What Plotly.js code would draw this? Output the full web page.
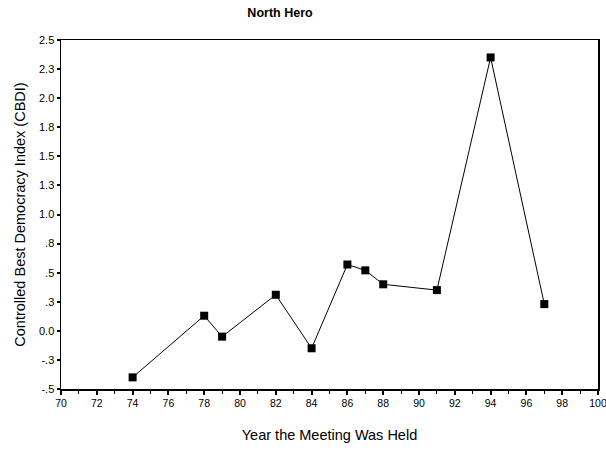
<!DOCTYPE html>
<html>
<head>
<meta charset="utf-8">
<script src="https://cdn.plot.ly/plotly-3.0.1.min.js"></script>
<style>html,body{margin:0;padding:0;background:#fff;}#chart{width:606px;height:450px;}</style>
</head>
<body>
<div id="chart"></div>
<script>
const years = [74, 78, 79, 82, 84, 86, 87, 88, 91, 94, 97];
const cbdi = [-0.40, 0.13, -0.05, 0.31, -0.15, 0.57, 0.52, 0.40, 0.35, 2.35, 0.23];
const yTickVals = [-0.5, -0.25, 0, 0.25, 0.5, 0.75, 1.0, 1.25, 1.5, 1.75, 2.0, 2.25, 2.5];
const yTickText = ['-.5', '-.3', '0.0', '.3', '.5', '.8', '1.0', '1.3', '1.5', '1.8', '2.0', '2.3', '2.5'];
const xTickVals = [70, 72, 74, 76, 78, 80, 82, 84, 86, 88, 90, 92, 94, 96, 98, 100];

const trace = {
  x: years, y: cbdi, type: 'scatter', mode: 'lines+markers',
  line: {color: '#000', width: 1},
  marker: {symbol: 'square', size: 8, color: '#000'},
  showlegend: false, hoverinfo: 'x+y'
};

const font = {family: 'Liberation Sans, Arial, sans-serif', color: '#000'};
const layout = {
  width: 606, height: 450,
  margin: {l: 61, r: 8, t: 40, b: 61},
  paper_bgcolor: '#fff', plot_bgcolor: '#fff',
  font: Object.assign({size: 10}, font),
  title: {text: '<b>North Hero</b>', x: 280/606, xref: 'container', xanchor: 'center', y: 1 - 13/450, yref: 'container', yanchor: 'middle', font: Object.assign({size: 12.5}, font)},
  xaxis: {
    range: [70, 100], tickvals: xTickVals, ticktext: xTickVals.map(String),
    ticks: 'outside', ticklen: 4, tickwidth: 2, tickcolor: '#000',
    minor: {dtick: 1, tick0: 70, ticks: 'outside', ticklen: 3, tickwidth: 1, tickcolor: '#000'},
    showline: true, linecolor: '#000', linewidth: 1.5, mirror: true,
    showgrid: false, zeroline: false, ticklabeloverflow: 'allow',
    tickfont: Object.assign({size: 10.5}, font),
    title: {text: 'Year the Meeting Was Held', standoff: 22, font: Object.assign({size: 14.5}, font)}
  },
  yaxis: {
    range: [-0.5, 2.5], tickvals: yTickVals, ticktext: yTickText,
    ticks: 'outside', ticklen: 3, tickwidth: 2, tickcolor: '#000',
    showline: true, linecolor: '#000', linewidth: 1.5, mirror: true,
    showgrid: false, zeroline: false,
    tickfont: Object.assign({size: 11}, font),
    title: {text: 'Controlled Best Democracy Index (CBDI)', standoff: 10, font: Object.assign({size: 14.5}, font)}
  }
};

Plotly.newPlot('chart', [trace], layout, {displayModeBar: false, staticPlot: true});
</script>
</body>
</html>
